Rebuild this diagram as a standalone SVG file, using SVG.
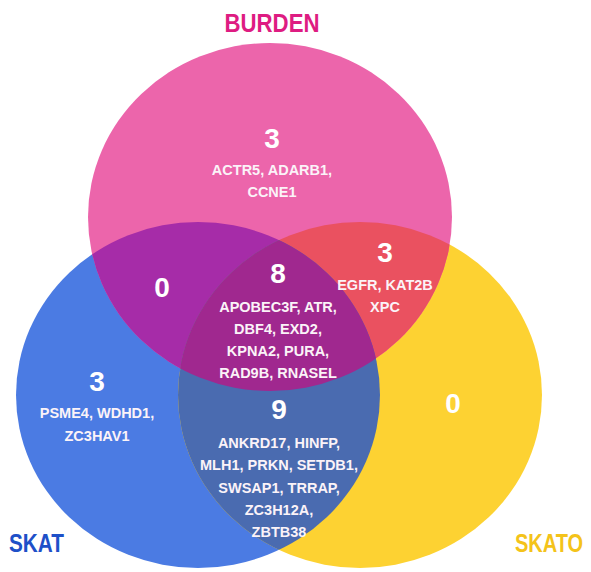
<svg xmlns="http://www.w3.org/2000/svg" width="591" height="572" viewBox="0 0 591 572">
  <style>
    .num { font-family: "Liberation Sans", Arial, sans-serif; font-weight: bold; font-size: 28px; fill: #ffffff; text-anchor: middle; }
    .gene { font-family: "Liberation Sans", Arial, sans-serif; font-weight: bold; font-size: 14.5px; fill: #fbf3f8; text-anchor: middle; }
    .title { font-family: "Liberation Sans", Arial, sans-serif; font-weight: bold; font-size: 26px; }
  </style>
  <defs>
    <clipPath id="cPink"><ellipse cx="270" cy="217" rx="182" ry="174"/></clipPath>
    <clipPath id="cBlue"><ellipse cx="198" cy="395" rx="182" ry="173"/></clipPath>
  </defs>
  <rect width="591" height="572" fill="#ffffff"/>

  <g id="set-skat">
    <ellipse cx="198" cy="395" rx="182" ry="173" fill="#4b7be3"/>
  </g>
  <g id="set-skato">
    <ellipse cx="360" cy="395" rx="182" ry="173" fill="#fdd232"/>
  </g>
  <g id="set-burden">
    <ellipse cx="270" cy="217" rx="182" ry="174" fill="#ec65ab"/>
  </g>

  <g id="overlaps">
    <ellipse id="burden-skat" cx="198" cy="395" rx="182" ry="173" fill="#a62ca8" clip-path="url(#cPink)"/>
    <ellipse id="burden-skato" cx="360" cy="395" rx="182" ry="173" fill="#ea5160" clip-path="url(#cPink)"/>
    <ellipse id="skat-skato" cx="360" cy="395" rx="182" ry="173" fill="#4a6bb0" clip-path="url(#cBlue)"/>
    <g clip-path="url(#cBlue)">
      <ellipse id="all-three" cx="360" cy="395" rx="182" ry="173" fill="#a0288f" clip-path="url(#cPink)"/>
    </g>
  </g>

  <g id="labels">
    <text class="title" x="272" y="32" text-anchor="middle" fill="#de1c82" textLength="95" lengthAdjust="spacingAndGlyphs">BURDEN</text>
    <text class="title" x="9" y="552" fill="#1e50c8" textLength="55" lengthAdjust="spacingAndGlyphs">SKAT</text>
    <text class="title" transform="translate(515,552) scale(0.77,1)" x="0" y="0" fill="#f4c31a">SKATO</text>
  </g>

  <g id="region-burden-only">
    <text class="num" x="272" y="148">3</text>
    <text class="gene" x="272" y="175">ACTR5, ADARB1,</text>
    <text class="gene" x="272" y="197">CCNE1</text>
  </g>
  <g id="region-burden-skat">
    <text class="num" x="162" y="297">0</text>
  </g>
  <g id="region-burden-skato">
    <text class="num" x="385" y="262">3</text>
    <text class="gene" x="385" y="290">EGFR, KAT2B</text>
    <text class="gene" x="385" y="312">XPC</text>
  </g>
  <g id="region-all">
    <text class="num" x="278" y="283">8</text>
    <text class="gene" x="278" y="312">APOBEC3F, ATR,</text>
    <text class="gene" x="278" y="334">DBF4, EXD2,</text>
    <text class="gene" x="278" y="356">KPNA2, PURA,</text>
    <text class="gene" x="278" y="378">RAD9B, RNASEL</text>
  </g>
  <g id="region-skat-only">
    <text class="num" x="97" y="391">3</text>
    <text class="gene" x="97" y="418">PSME4, WDHD1,</text>
    <text class="gene" x="97" y="441">ZC3HAV1</text>
  </g>
  <g id="region-skat-skato">
    <text class="num" x="279" y="419">9</text>
    <text class="gene" x="279" y="448">ANKRD17, HINFP,</text>
    <text class="gene" x="279" y="470">MLH1, PRKN, SETDB1,</text>
    <text class="gene" x="279" y="493">SWSAP1, TRRAP,</text>
    <text class="gene" x="279" y="515">ZC3H12A,</text>
    <text class="gene" x="279" y="537">ZBTB38</text>
  </g>
  <g id="region-skato-only">
    <text class="num" x="453" y="413">0</text>
  </g>
</svg>
